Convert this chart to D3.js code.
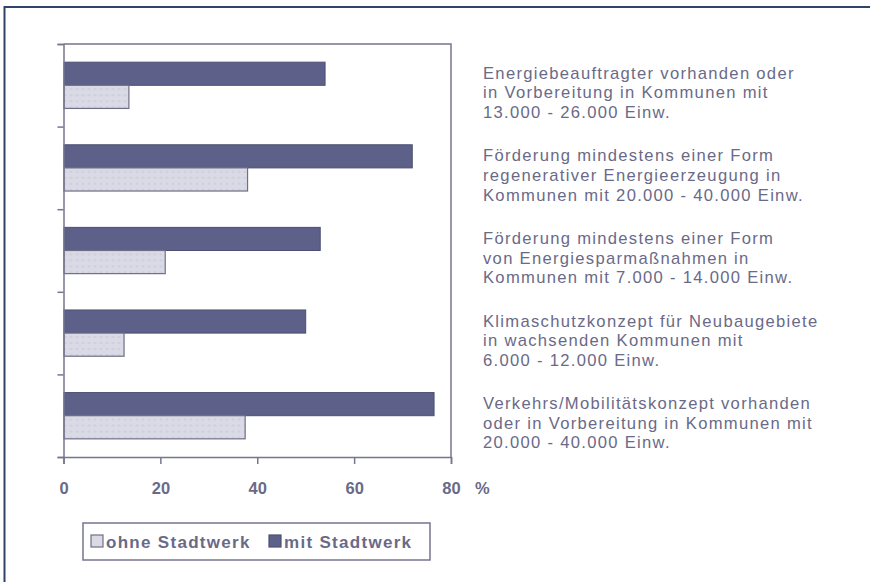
<!DOCTYPE html>
<html>
<head>
<meta charset="utf-8">
<script src="https://cdn.jsdelivr.net/npm/d3@7"></script>
<style>
  body { margin: 0; background: #fff; }
  svg { display: block; font-family: "Liberation Sans", Arial, sans-serif; }
</style>
</head>
<body>
<svg class="chart" width="870" height="582"></svg>
<script>
// data, top to bottom
var categories = ["c1", "c2", "c3", "c4", "c5"];
var mitStadtwerk = [54, 72, 53, 50, 76.5];
var ohneStadtwerk = [13.5, 38, 21, 12.5, 37.5];
var labels = [
  ["Energiebeauftragter vorhanden oder", "in Vorbereitung in Kommunen mit", "13.000 - 26.000 Einw."],
  ["Förderung mindestens einer Form", "regenerativer Energieerzeugung in", "Kommunen mit 20.000 - 40.000 Einw."],
  ["Förderung mindestens einer Form", "von Energiesparmaßnahmen in", "Kommunen mit 7.000 - 14.000 Einw."],
  ["Klimaschutzkonzept für Neubaugebiete", "in wachsenden Kommunen mit", "6.000 - 12.000 Einw."],
  ["Verkehrs/Mobilitätskonzept vorhanden", "oder in Vorbereitung in Kommunen mit", "20.000 - 40.000 Einw."]
];
var xTicks = [0, 20, 40, 60, 80];
var legendNames = ["ohne Stadtwerk", "mit Stadtwerk"];

var svg = d3.select(".chart"),
    margin = {top: 44, left: 63.5},
    width = 387.5,
    height = 413,
    g = svg.append("g").attr("transform", "translate(" + margin.left + "," + margin.top + ")");

var textCol = "#6a6a88", axisCol = "#757590";
var darkFill = "#5d6189", darkStroke = "#4b4f72";
var lightFill = "#dadae6", lightStroke = "#6e6e86";

// outer frame (left + top only visible)
svg.append("path")
    .attr("d", "M4.5,582 V7 H870")
    .attr("fill", "none")
    .attr("stroke", "#2f4468")
    .attr("stroke-width", 2);

// faint stitch pattern on light bars
var defs = svg.append("defs");
var pat = defs.append("pattern")
    .attr("id", "stitch")
    .attr("width", 6).attr("height", 6)
    .attr("patternUnits", "userSpaceOnUse");
pat.append("rect").attr("width", 6).attr("height", 6).attr("fill", lightFill);
pat.append("path").attr("d", "M0,3 H3").attr("stroke", "#c4c4d4").attr("stroke-width", 1);

var x = d3.scaleLinear().domain([0, 80]).range([0, width]);

var y = d3.scaleBand()
    .domain(categories)
    .range([0, height])
    .paddingInner(0.44)
    .paddingOuter(0.22);

var sub = d3.scaleBand()
    .domain(["mit", "ohne"])
    .range([0, y.bandwidth()]);

var rows = categories.map(function(c, i) {
  return {cat: c, mit: mitStadtwerk[i], ohne: ohneStadtwerk[i], label: labels[i]};
});

// plot frame top + right
g.append("path")
    .attr("d", "M0,0 H" + width + " V" + height)
    .attr("fill", "none")
    .attr("stroke", axisCol)
    .attr("stroke-width", 1.5);

// bars
var grp = g.selectAll(".grp")
    .data(rows)
  .enter().append("g")
    .attr("transform", function(d) { return "translate(0," + y(d.cat) + ")"; });

grp.append("rect")
    .attr("x", 0.5)
    .attr("y", sub("mit"))
    .attr("width", function(d) { return x(d.mit) - 0.5; })
    .attr("height", sub.bandwidth())
    .attr("fill", darkFill)
    .attr("stroke", darkStroke)
    .attr("stroke-width", 1);

grp.append("rect")
    .attr("x", 0.5)
    .attr("y", sub("ohne"))
    .attr("width", function(d) { return x(d.ohne) - 0.5; })
    .attr("height", sub.bandwidth())
    .attr("fill", "url(#stitch)")
    .attr("stroke", lightStroke)
    .attr("stroke-width", 1.2);

// left axis: ticks at band boundaries
var yEdge = d3.scaleLinear().domain([0, categories.length]).range([0, height]);
var yAxis = g.append("g")
    .call(d3.axisLeft(yEdge).tickValues(d3.range(categories.length + 1)).tickSize(6).tickFormat(""));
yAxis.select(".domain").attr("stroke", axisCol).attr("stroke-width", 1.5);
yAxis.selectAll(".tick line").attr("stroke", axisCol).attr("stroke-width", 1.5);

// bottom axis
var xAxis = g.append("g")
    .attr("transform", "translate(0," + height + ")")
    .call(d3.axisBottom(x).tickValues(xTicks).tickSize(7).tickPadding(18));
xAxis.select(".domain").attr("stroke", axisCol).attr("stroke-width", 1.5);
xAxis.selectAll(".tick line").attr("stroke", axisCol).attr("stroke-width", 1.5);
xAxis.selectAll(".tick text")
    .attr("fill", textCol)
    .style("font-size", "16.5px")
    .style("font-weight", "bold")
    .style("font-family", "'Liberation Sans', Arial, sans-serif");

g.append("text")
    .attr("x", width + 24)
    .attr("y", height + 37)
    .attr("fill", textCol)
    .style("font-size", "16.5px")
    .style("font-weight", "bold")
    .text("%");

// category labels to the right
var lab = svg.selectAll(".lab")
    .data(rows)
  .enter().append("text")
    .attr("x", 483)
    .attr("y", function(d) { return margin.top + y(d.cat) + y.bandwidth() / 2 - 6.5; })
    .attr("fill", textCol)
    .style("font-size", "16.6px")
    .style("letter-spacing", "1.3px");

lab.selectAll("tspan")
    .data(function(d) { return d.label; })
  .enter().append("tspan")
    .attr("x", 483)
    .attr("dy", function(d, i) { return i === 0 ? "0" : "19.6"; })
    .text(function(d) { return d; });

// legend
var leg = svg.append("g").attr("transform", "translate(83,523)");
leg.append("rect")
    .attr("width", 347).attr("height", 37)
    .attr("fill", "#fff")
    .attr("stroke", axisCol)
    .attr("stroke-width", 1.5);

var items = [
  {name: legendNames[0], fill: lightFill, stroke: lightStroke, x: 8},
  {name: legendNames[1], fill: darkFill, stroke: darkStroke, x: 186}
];
var it = leg.selectAll(".it")
    .data(items)
  .enter().append("g")
    .attr("transform", function(d) { return "translate(" + d.x + ",0)"; });
it.append("rect")
    .attr("y", 12).attr("width", 12).attr("height", 12)
    .attr("fill", function(d) { return d.fill; })
    .attr("stroke", function(d) { return d.stroke; })
    .attr("stroke-width", 1.2);
it.append("text")
    .attr("x", 15).attr("y", 24.5)
    .attr("fill", textCol)
    .style("font-size", "17px")
    .style("font-weight", "bold")
    .style("letter-spacing", "1.3px")
    .text(function(d) { return d.name; });
</script>
</body>
</html>
